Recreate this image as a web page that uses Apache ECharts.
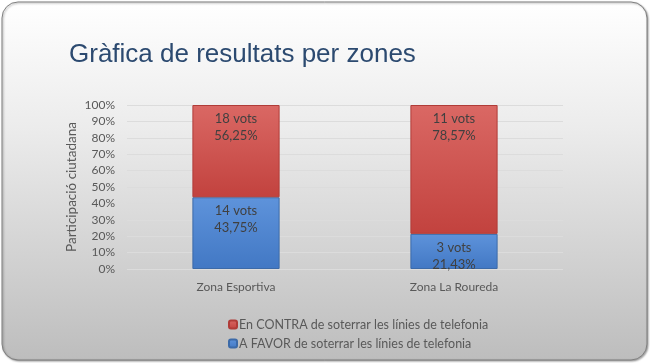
<!DOCTYPE html>
<html><head><meta charset="utf-8">
<script src="https://cdn.jsdelivr.net/npm/echarts@6/dist/echarts.min.js"></script>
<style>html,body{margin:0;padding:0;background:#fff}#c{width:650px;height:363px}</style>
</head><body><div id="c"></div>
<script>
const categories = ['Zona Esportiva', 'Zona La Roureda'];
const favorPct = [43.75, 21.43];
const contraPct = [56.25, 78.57];
const favorVotes = [14, 3];
const contraVotes = [18, 11];
const seriesNames = ['En CONTRA de soterrar les línies de telefonia', 'A FAVOR de soterrar les línies de telefonia'];
const yTicks = [0, 10, 20, 30, 40, 50, 60, 70, 80, 90, 100];

const fmt = v => v.toFixed(2).replace('.', ',');
const chart = echarts.init(document.getElementById('c'), null, {renderer: 'canvas'});
const labelStyle = {show: true, position: 'insideTop', distance: 5, color: '#404040', fontFamily: 'Lato', fontSize: 13, lineHeight: 17};
chart.setOption({
  animation: false,
  graphic: [{
    type: 'rect', z: -10, silent: true,
    shape: {x: 2, y: 2, width: 645, height: 358, r: 16},
    style: {
      fill: new echarts.graphic.LinearGradient(0, 0, 0, 1, [
        {offset: 0, color: '#ffffff'}, {offset: 0.35, color: '#ececec'}, {offset: 1, color: '#bdbdbd'}
      ]),
      stroke: '#7f7f7f', lineWidth: 1,
      shadowBlur: 2, shadowColor: 'rgba(0,0,0,0.35)', shadowOffsetX: 1, shadowOffsetY: 1
    }
  }],
  title: {
    text: 'Gràfica de resultats per zones', left: 64, top: 37,
    textStyle: {fontFamily: 'Liberation Sans', fontWeight: 'normal', fontSize: 26, color: '#2c4a70'}
  },
  legend: {
    orient: 'vertical', left: 223, top: 313, itemWidth: 8, itemHeight: 8, itemGap: 6,
    data: [seriesNames[0], seriesNames[1]],
    textStyle: {fontFamily: 'Lato', fontSize: 12.5, color: '#595959', padding: [0, 0, 0, -3]}
  },
  grid: {left: 127, right: 87, top: 105, bottom: 94},
  xAxis: {
    type: 'category', data: categories,
    axisLine: {show: false}, axisTick: {show: false},
    axisLabel: {fontFamily: 'Lato', fontSize: 12, color: '#595959', margin: 12}
  },
  yAxis: {
    type: 'value', min: 0, max: 100, interval: 10,
    name: 'Participació ciutadana', nameLocation: 'middle', nameGap: 48, nameRotate: 90,
    nameMoveOverlap: false,
    nameTextStyle: {fontFamily: 'Lato', fontSize: 13.5, color: '#595959'},
    axisLabel: {formatter: v => yTicks.includes(v) ? v + '%' : '', fontFamily: 'Lato', fontSize: 12, color: '#595959', margin: 12},
    splitLine: {lineStyle: {color: '#dcdcdc', width: 1}},
    axisLine: {show: false}, axisTick: {show: false}
  },
  series: [{
    name: seriesNames[1], type: 'bar', stack: 's', barWidth: '40%', data: favorPct,
    itemStyle: {
      color: new echarts.graphic.LinearGradient(0, 0, 0, 1, [{offset: 0, color: '#5e93db'}, {offset: 1, color: '#4278c4'}]),
      borderColor: '#3c6aa8', borderWidth: 1
    },
    label: Object.assign({}, labelStyle, {formatter: p => favorVotes[p.dataIndex] + ' vots\n' + fmt(p.value) + '%'})
  }, {
    name: seriesNames[0], type: 'bar', stack: 's', barWidth: '40%', data: contraPct,
    itemStyle: {
      color: new echarts.graphic.LinearGradient(0, 0, 0, 1, [{offset: 0, color: '#da6864'}, {offset: 1, color: '#c2423e'}]),
      borderColor: '#b03c38', borderWidth: 1
    },
    label: Object.assign({}, labelStyle, {formatter: p => contraVotes[p.dataIndex] + ' vots\n' + fmt(p.value) + '%'})
  }]
});
</script></body></html>
